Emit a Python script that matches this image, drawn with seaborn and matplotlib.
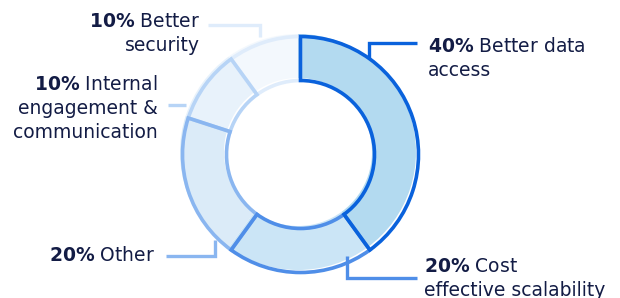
import matplotlib
matplotlib.use("Agg")
import matplotlib.pyplot as plt
import seaborn as sns

# Daten
labels = ["Better data\naccess", "Cost\neffective scalability", "Other",
          "Internal\nengagement &\ncommunication", "Better\nsecurity"]
shares = [40, 20, 20, 10, 10]
fill_colors = ["#b3daf0", "#cbe5f6", "#dbebf8", "#e8f2fb", "#f3f8fd"]
edge_colors = ["#0a62dc", "#4f8ee8", "#8ab6f0", "#b7d4f6", "#dfecfb"]

W, H = 620, 298
TEXT = "#131c45"
LINE_STEP = 24


def y(py):
    """Pixel von oben -> Datenkoordinate"""
    return H - py


def main():
    sns.set_theme(style="white")
    plt.rcParams["font.family"] = ["DejaVu Sans"]
    plt.rcParams["mathtext.fontset"] = "dejavusans"

    fig = plt.figure(figsize=(W / 100, H / 100), dpi=100)
    ax = fig.add_axes([0, 0, 1, 1])

    cx, cy = 298, y(152)
    r, width = 118, 44

    # Flaechen
    ax.pie(shares, colors=fill_colors, startangle=90, counterclock=False,
           radius=r, center=(cx, cy),
           wedgeprops=dict(width=width, linewidth=0))
    # Konturen leicht versetzt
    wedges, _ = ax.pie(shares, colors=["none"] * 5, startangle=90, counterclock=False,
                       radius=r, center=(cx + 2.5, cy - 2.5),
                       wedgeprops=dict(width=width, linewidth=2.6, fill=False))
    for i, w in enumerate(wedges):
        w.set_edgecolor(edge_colors[i])
        w.set_zorder(10 - i)

    # Verbindungslinien und Beschriftungen
    leaders = [
        [(369, 58), (369, 43), (417, 43)],
        [(347, 256), (347, 278), (417, 278)],
        [(215, 240), (215, 256), (166, 256)],
        [(186, 105), (168, 105)],
        [(260, 37), (260, 25), (208, 25)],
    ]
    text_pos = [(428, 52, "left"), (424, 272, "left"), (155, 261, "right"),
                (158, 90, "right"), (200, 27, "right")]

    for i, pts in enumerate(leaders):
        xs = [p[0] for p in pts]
        ys = [y(p[1]) for p in pts]
        ax.plot(xs, ys, color=edge_colors[i], lw=2.4, solid_capstyle="butt",
                solid_joinstyle="miter", zorder=12)
        tx, ty, ha = text_pos[i]
        lines = labels[i].split("\n")
        lines[0] = r"$\mathbf{" + str(shares[i]) + r"\%}$ " + lines[0]
        for k, line in enumerate(lines):
            ax.text(tx, y(ty + k * LINE_STEP), line, ha=ha, va="baseline",
                    fontsize=13.5, color=TEXT, zorder=13)

    ax.set_xlim(0, W)
    ax.set_ylim(0, H)
    ax.set_aspect("equal")
    ax.axis("off")

    fig.savefig("out.png", dpi=100, facecolor="white")
    plt.close(fig)


if __name__ == "__main__":
    main()
